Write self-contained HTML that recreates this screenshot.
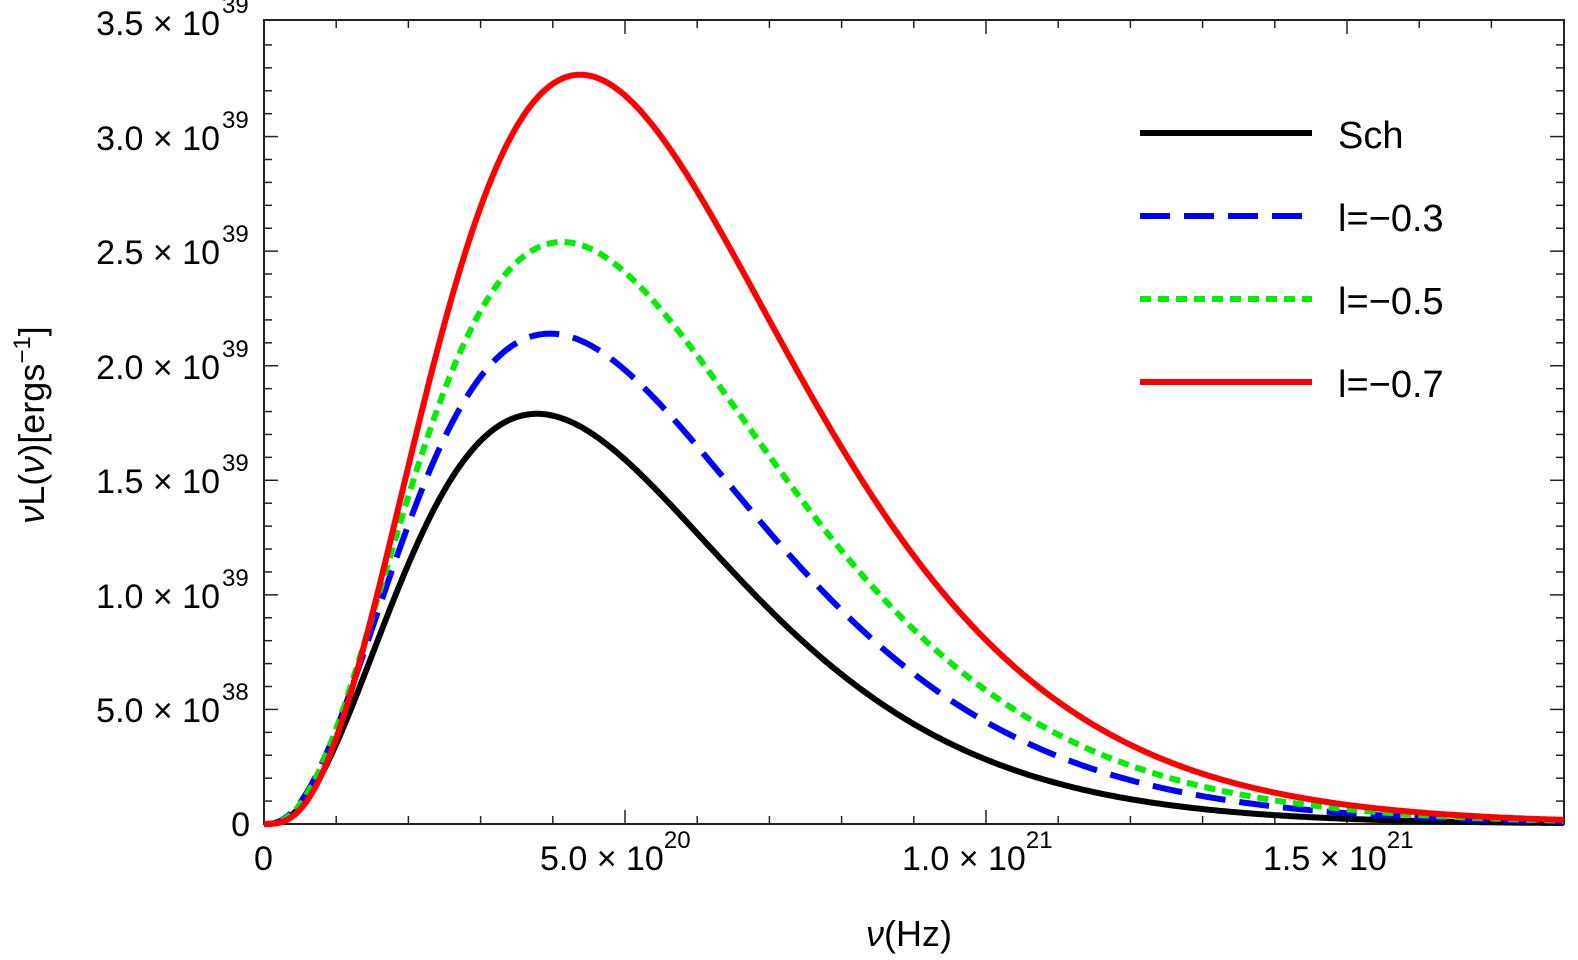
<!DOCTYPE html>
<html><head><meta charset="utf-8"><style>
html,body{margin:0;padding:0;background:#fff}
svg{display:block}
text{font-family:"Liberation Sans",sans-serif;fill:#000}
</style></head><body>
<svg id="s" width="1578" height="960" xmlns="http://www.w3.org/2000/svg">
<rect x="264" y="20" width="1300" height="804" fill="none" stroke="#222" stroke-width="2"/>
<g id="ticks" stroke="#222" stroke-width="1.5"></g>
<g id="curves" fill="none" stroke-width="6"></g>
<g font-size="34" text-anchor="end">
<text x="250" y="836">0</text>
<text x="220" y="722">5.0 × 10</text><text x="222" y="700" font-size="24" text-anchor="start">38</text>
<text x="220" y="608">1.0 × 10</text><text x="222" y="586" font-size="24" text-anchor="start">39</text>
<text x="220" y="493">1.5 × 10</text><text x="222" y="471" font-size="24" text-anchor="start">39</text>
<text x="220" y="379">2.0 × 10</text><text x="222" y="357" font-size="24" text-anchor="start">39</text>
<text x="220" y="264">2.5 × 10</text><text x="222" y="242" font-size="24" text-anchor="start">39</text>
<text x="220" y="150">3.0 × 10</text><text x="222" y="128" font-size="24" text-anchor="start">39</text>
<text x="220" y="35">3.5 × 10</text><text x="222" y="13" font-size="24" text-anchor="start">39</text>
</g>
<g font-size="34">
<text x="254" y="870">0</text>
<text x="540" y="870">5.0 × 10<tspan font-size="24" dy="-22">20</tspan></text>
<text x="902" y="870">1.0 × 10<tspan font-size="24" dy="-22">21</tspan></text>
<text x="1263" y="870">1.5 × 10<tspan font-size="24" dy="-22">21</tspan></text>
</g>
<text x="866" y="946" font-size="36"><tspan font-style="italic">ν</tspan>(Hz)</text>
<text transform="translate(44,425) rotate(-90)" text-anchor="middle" font-size="36"><tspan font-style="italic">ν</tspan>L(<tspan font-style="italic">ν</tspan>)[ergs<tspan font-size="24" dy="-14">−1</tspan><tspan dy="14">]</tspan></text>
<g stroke-width="6">
<line x1="1140" y1="133" x2="1312" y2="133" stroke="#000"/>
<line x1="1140" y1="216" x2="1312" y2="216" stroke="#00f" stroke-dasharray="30,14"/>
<line x1="1140" y1="299" x2="1312" y2="299" stroke="#0e0" stroke-dasharray="11,7"/>
<line x1="1140" y1="382" x2="1312" y2="382" stroke="#f00"/>
</g>
<g font-size="38">
<text x="1338" y="148">Sch</text>
<text x="1338" y="231">l=−0.3</text>
<text x="1338" y="314">l=−0.5</text>
<text x="1338" y="397">l=−0.7</text>
</g>
</svg>
<script>
var X0=264,XS=361/5e20,Y0=824,YS=114.57/5e38;
var t=document.getElementById("ticks"),h="";
for(var i=1;i<18;i++){var x=X0+i*1e20*XS,L=(i%5==0)?14:8;h+='<line x1="'+x+'" y1="824" x2="'+x+'" y2="'+(824-L)+'"/><line x1="'+x+'" y1="20" x2="'+x+'" y2="'+(20+L)+'"/>';}
for(var j=1;j<35;j++){var y=Y0-j*1e38*YS,L=(j%5==0)?14:8;h+='<line x1="264" y1="'+y+'" x2="'+(264+L)+'" y2="'+y+'"/><line x1="1564" y1="'+y+'" x2="'+(1564-L)+'" y2="'+y+'"/>';}
t.innerHTML=h;
var cs=[["#000","",3.78e20,1.79e39,2.75],["#00f","30,14",3.96e20,2.14e39,2.62],["#0e0","11,7",4.13e20,2.54e39,2.74],["#f00","",4.38e20,3.27e39,3.07]];
var g=document.getElementById("curves"),s="";
cs.forEach(function(c){var d="";for(var k=0;k<=650;k++){var nu=1.8e21*k/650,r=nu/c[2],v=r<=0?0:c[3]*Math.exp(c[4]*(Math.log(r)+1-r));d+=(k?"L":"M")+(X0+nu*XS).toFixed(1)+","+(Y0-v*YS).toFixed(1);}
s+='<path d="'+d+'" stroke="'+c[0]+'"'+(c[1]?' stroke-dasharray="'+c[1]+'"':'')+'/>';});
g.innerHTML=s;
</script>
</body></html>
